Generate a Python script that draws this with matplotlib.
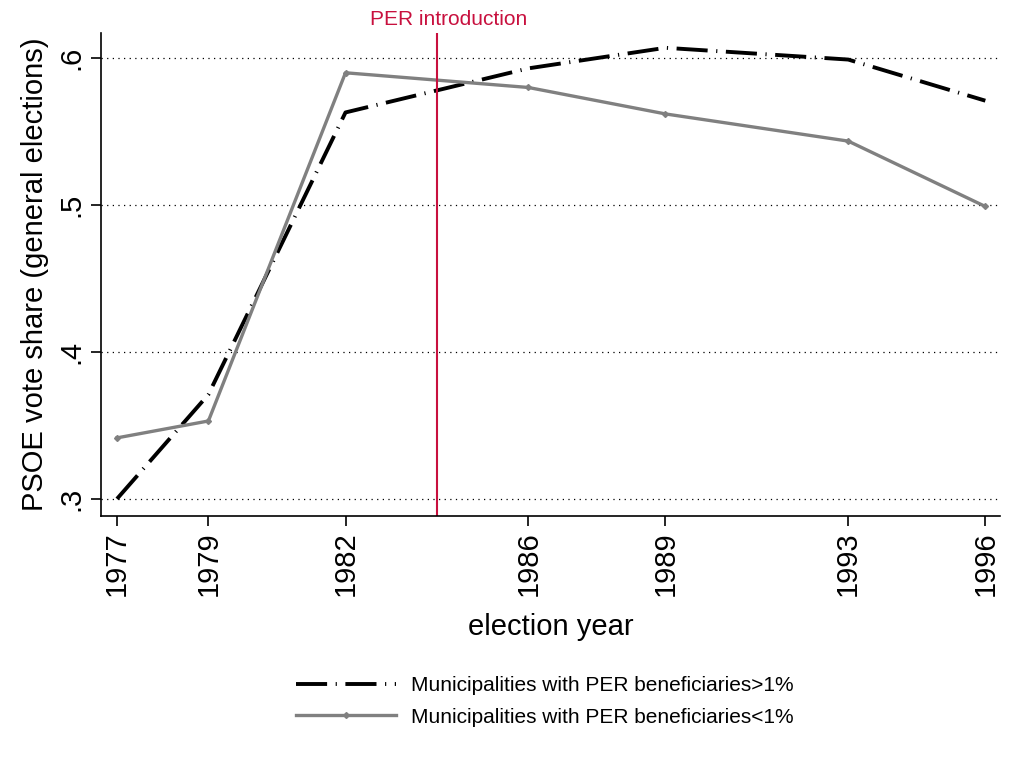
import matplotlib.pyplot as plt

plt.rcParams['font.family'] = ['Liberation Sans', 'DejaVu Sans']

years = [1977, 1979, 1982, 1986, 1989, 1993, 1996]
high_per = [0.300, 0.371, 0.563, 0.593, 0.607, 0.599, 0.571]
low_per = [0.3415, 0.353, 0.590, 0.580, 0.562, 0.5435, 0.499]
yticks = [0.3, 0.4, 0.5, 0.6]
ytick_labels = ['.3', '.4', '.5', '.6']
per_year = 1984

fig = plt.figure(figsize=(10.14, 7.7), dpi=100)
ax = fig.add_axes([0.0996, 0.330, 0.887, 0.627])

ax.plot(years, high_per, color='black', lw=2.8, linestyle=(0, (8, 2.2, 0.3, 2.2)),
        label='Municipalities with PER beneficiaries>1%')
ax.plot(years, low_per, color='#808080', lw=2.4, marker='D', markersize=3,
        label='Municipalities with PER beneficiaries<1%')

ax.axvline(per_year, color='#c8103e', lw=1.5)
ax.annotate('PER introduction', xy=(per_year + 0.25, 0.617), xytext=(0, 3),
            textcoords='offset points', color='#c8103e',
            ha='center', va='bottom', fontsize=15)

for y in yticks:
    ax.axhline(y, color='black', lw=0.9, linestyle=(0, (1, 3.5)), zorder=0)

ax.set_xlim(1976.65, 1996.33)
ax.set_ylim(0.2884, 0.617)
ax.set_xticks(years)
ax.set_xticklabels([str(y) for y in years], rotation=90, fontsize=21)
ax.set_yticks(yticks)
ax.set_yticklabels(ytick_labels, rotation=90, fontsize=21, va='center')
ax.tick_params(length=7, width=1.2, direction='out', pad=4)
ax.spines['top'].set_visible(False)
ax.spines['right'].set_visible(False)
ax.spines['left'].set_linewidth(1.2)
ax.spines['bottom'].set_linewidth(1.2)

ax.set_xlabel('election year', fontsize=21, labelpad=12)
ax.set_ylabel('PSOE vote share (general elections)', fontsize=21, labelpad=6)

handles, labels = ax.get_legend_handles_labels()
fig.legend(handles, labels, loc='center', bbox_to_anchor=(0.5375, 0.089),
           frameon=False, fontsize=15, handlelength=4.8, handletextpad=0.7,
           labelspacing=0.6)

fig.savefig('out.png', dpi=100)
